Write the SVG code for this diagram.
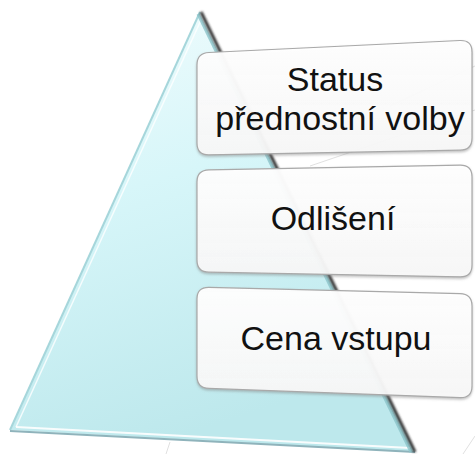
<svg xmlns="http://www.w3.org/2000/svg" width="475" height="454" viewBox="0 0 475 454">
  <defs>
    <linearGradient id="triFill" x1="0" y1="0" x2="0.3" y2="1">
      <stop offset="0" stop-color="#f2fcfd"/>
      <stop offset="0.45" stop-color="#d7f6f9"/>
      <stop offset="1" stop-color="#bde8ec"/>
    </linearGradient>
    <linearGradient id="boxFill" x1="0" y1="0" x2="0" y2="1">
      <stop offset="0" stop-color="#ffffff" stop-opacity="0.96"/>
      <stop offset="1" stop-color="#f9f9f9" stop-opacity="0.93"/>
    </linearGradient>
    <filter id="blur1" x="-10%" y="-10%" width="120%" height="120%">
      <feGaussianBlur stdDeviation="0.9"/>
    </filter>
    <filter id="shadow" x="-5%" y="-10%" width="110%" height="125%">
      <feDropShadow dx="0" dy="1.5" stdDeviation="1.2" flood-color="#808080" flood-opacity="0.5"/>
    </filter>
    <style>
      .box { fill: url(#boxFill); stroke: #a9a9a9; stroke-width: 1.2; filter: url(#shadow); }
      .lbl { font-family: "Liberation Sans", Arial, sans-serif; font-size: 34px; fill: #111111; text-anchor: middle; }
      .refl { stroke: #d8d8d8; stroke-width: 1; fill: none; opacity: 0.8; }
    </style>
  </defs>

  <g id="reflections">
    <line class="refl" x1="310" y1="166" x2="475" y2="110"/>
    <line class="refl" x1="390" y1="106" x2="475" y2="66"/>
    <line class="refl" x1="463" y1="454" x2="475" y2="436"/>
    <line class="refl" x1="166" y1="454" x2="170" y2="442"/>
  </g>

  <g id="pyramid">
    <polygon points="200,12 10,430 415,452" fill="url(#triFill)"/>
    <line x1="200" y1="12" x2="10" y2="430" stroke="#a6d6db" stroke-width="2"/>
    <line x1="201" y1="20" x2="16" y2="427" stroke="#ffffff" stroke-width="1.5" opacity="0.8"/>
    <line x1="10" y1="431" x2="415" y2="452" stroke="#8fb3bb" stroke-width="2.2"/>
    <line x1="16" y1="427" x2="410" y2="448" stroke="#ffffff" stroke-width="1.8" opacity="0.9"/>
    <line x1="198" y1="14" x2="411" y2="452" stroke="#8cc4ca" stroke-width="3" opacity="0.8"/>
    <line x1="201" y1="12" x2="415" y2="452" stroke="#303030" stroke-width="3" filter="url(#blur1)"/>
  </g>

  <g id="node-status">
    <path class="box" d="M197,65 Q197,53 209,52.5 L460,40.5 Q472,40 472,52 L472,138 Q472,150 460,150.2 L209,154.8 Q197,155 197,143 Z"/>
    <text class="lbl" x="335" y="91">Status</text>
    <text class="lbl" x="340" y="130">přednostní volby</text>
  </g>

  <g id="node-odliseni">
    <path class="box" d="M197,182 Q197,170 209,169.8 L460,165.2 Q472,165 472,177 L472,265 Q472,277 460,276.8 L209,272.2 Q197,272 197,260 Z"/>
    <text class="lbl" x="333" y="230">Odlišení</text>
  </g>

  <g id="node-cena">
    <path class="box" d="M197,299 Q197,287 209,287.3 L460,293.7 Q472,294 472,306 L472,386 Q472,398 460,397.6 L209,388.4 Q197,388 197,376 Z"/>
    <text class="lbl" x="336" y="350">Cena vstupu</text>
  </g>

  <g id="connectors"/>
</svg>
